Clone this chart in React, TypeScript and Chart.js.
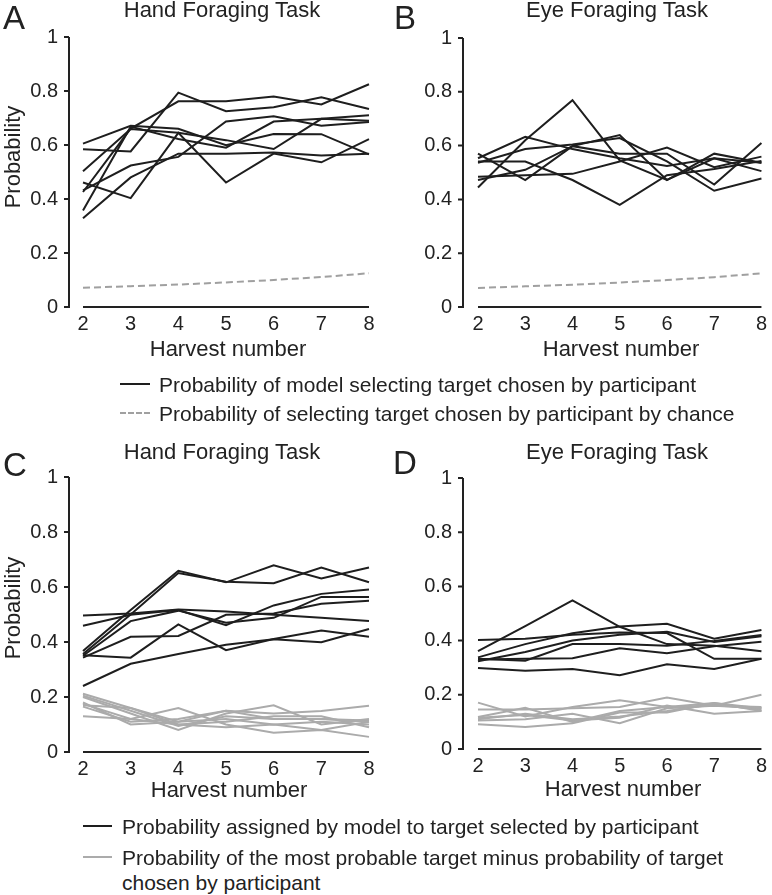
import React, { useEffect, useRef } from 'react';
import { Chart, registerables } from 'chart.js';

Chart.register(...registerables);

const FONT = "'Liberation Sans', Arial, Helvetica, sans-serif";

// ---------- data ----------
const harvest = ['2', '3', '4', '5', '6', '7', '8'];
const yTickLabels = ['0', '0.2', '0.4', '0.6', '0.8', '1'];

// chance probability (panels A and B)
const chance = [0.071, 0.077, 0.083, 0.091, 0.1, 0.111, 0.125];

// Panel A: hand foraging, model selecting participant's target
const handModel = [
  [0.605, 0.671, 0.66, 0.599, 0.641, 0.64, 0.565],
  [0.584, 0.576, 0.794, 0.725, 0.74, 0.777, 0.733],
  [0.503, 0.659, 0.645, 0.618, 0.585, 0.697, 0.69],
  [0.461, 0.403, 0.645, 0.461, 0.568, 0.536, 0.622],
  [0.432, 0.524, 0.556, 0.687, 0.706, 0.671, 0.685],
  [0.426, 0.661, 0.762, 0.762, 0.78, 0.75, 0.825],
  [0.357, 0.668, 0.622, 0.59, 0.687, 0.697, 0.71],
  [0.329, 0.48, 0.568, 0.568, 0.572, 0.561, 0.568],
];

// Panel B: eye foraging, model selecting participant's target
const eyeModel = [
  [0.444, 0.62, 0.769, 0.545, 0.472, 0.553, 0.536],
  [0.57, 0.472, 0.598, 0.57, 0.57, 0.455, 0.61],
  [0.553, 0.633, 0.587, 0.553, 0.524, 0.553, 0.505],
  [0.541, 0.541, 0.472, 0.38, 0.49, 0.513, 0.543],
  [0.536, 0.587, 0.604, 0.628, 0.541, 0.432, 0.478],
  [0.484, 0.49, 0.495, 0.541, 0.593, 0.52, 0.559],
  [0.472, 0.51, 0.598, 0.639, 0.472, 0.57, 0.536],
];

// Panel C: hand foraging
const handAssigned = [
  [0.367, 0.516, 0.659, 0.617, 0.679, 0.631, 0.671],
  [0.356, 0.5, 0.651, 0.619, 0.614, 0.671, 0.617],
  [0.496, 0.504, 0.518, 0.511, 0.499, 0.488, 0.476],
  [0.459, 0.499, 0.516, 0.461, 0.533, 0.575, 0.591],
  [0.35, 0.476, 0.514, 0.47, 0.488, 0.564, 0.564],
  [0.343, 0.419, 0.422, 0.499, 0.504, 0.539, 0.55],
  [0.352, 0.343, 0.464, 0.37, 0.411, 0.442, 0.419],
  [0.24, 0.321, 0.356, 0.39, 0.41, 0.399, 0.447],
];
const handMinus = [
  [0.212, 0.16, 0.11, 0.15, 0.14, 0.149, 0.168],
  [0.205, 0.15, 0.095, 0.13, 0.12, 0.12, 0.11],
  [0.2, 0.14, 0.08, 0.14, 0.17, 0.1, 0.12],
  [0.18, 0.1, 0.11, 0.12, 0.1, 0.11, 0.1],
  [0.175, 0.12, 0.16, 0.1, 0.07, 0.08, 0.055],
  [0.165, 0.11, 0.12, 0.15, 0.12, 0.12, 0.115],
  [0.13, 0.12, 0.1, 0.11, 0.13, 0.13, 0.09],
  [0.17, 0.16, 0.1, 0.09, 0.1, 0.08, 0.11],
];

// Panel D: eye foraging
const eyeAssigned = [
  [0.402, 0.407, 0.422, 0.43, 0.428, 0.333, 0.333],
  [0.361, 0.453, 0.548, 0.451, 0.387, 0.381, 0.361],
  [0.338, 0.387, 0.427, 0.452, 0.462, 0.407, 0.439],
  [0.333, 0.326, 0.387, 0.387, 0.381, 0.399, 0.421],
  [0.324, 0.358, 0.4, 0.422, 0.433, 0.395, 0.416],
  [0.33, 0.333, 0.335, 0.372, 0.353, 0.379, 0.396],
  [0.299, 0.289, 0.295, 0.272, 0.313, 0.295, 0.333],
];
const eyeMinus = [
  [0.171, 0.12, 0.155, 0.18, 0.155, 0.16, 0.2],
  [0.146, 0.146, 0.15, 0.155, 0.19, 0.16, 0.15],
  [0.118, 0.152, 0.1, 0.14, 0.155, 0.17, 0.14],
  [0.11, 0.13, 0.11, 0.12, 0.14, 0.165, 0.145],
  [0.105, 0.11, 0.13, 0.095, 0.15, 0.16, 0.155],
  [0.091, 0.081, 0.095, 0.135, 0.135, 0.17, 0.15],
  [0.115, 0.125, 0.105, 0.115, 0.16, 0.13, 0.14],
];

// ---------- styles ----------
const BLACK = '#1e1e1e';
const GRAY = '#ababab';
const DASH = '#a0a0a0';
const TEXT = '#222';

function lines(rows: number[][], color: string) {
  return rows.map((r) => ({
    data: r,
    borderColor: color,
    borderWidth: 2,
    pointRadius: 0,
    tension: 0,
    fill: false,
  }));
}
function dashed(r: number[]) {
  return {
    data: r,
    borderColor: DASH,
    borderWidth: 2,
    borderDash: [7, 4],
    pointRadius: 0,
    tension: 0,
    fill: false,
  };
}

const axesPlugin = (offset: number) => ({
  id: 'offsetAxes',
  afterDraw(chart: any) {
    const { ctx, chartArea, scales } = chart;
    const y = scales.y;
    const ax = chartArea.left - offset;
    const y0 = y.getPixelForValue(0);
    const y1 = y.getPixelForValue(1);
    ctx.save();
    ctx.strokeStyle = '#222';
    ctx.lineWidth = 2;
    ctx.beginPath();
    ctx.moveTo(ax, y1);
    ctx.lineTo(ax, y0 + 1);
    y.ticks.forEach((t: any) => {
      const py = y.getPixelForValue(t.value);
      ctx.moveTo(ax, py);
      ctx.lineTo(ax - 5, py);
    });
    ctx.moveTo(chartArea.left, y0);
    ctx.lineTo(chartArea.right, y0);
    ctx.stroke();
    ctx.restore();
  },
});

type PanelProps = {
  left: number;
  top: number;
  width: number;
  height: number;
  padTop: number;
  padRight: number;
  yWidth: number;
  yPad: number;
  xHeight: number;
  offset: number;
  datasets: any[];
};

function Panel(p: PanelProps) {
  const ref = useRef<HTMLCanvasElement>(null);
  useEffect(() => {
    if (!ref.current) return;
    const chart = new Chart(ref.current, {
      type: 'line',
      data: { labels: harvest, datasets: p.datasets },
      options: {
        animation: false,
        responsive: false,
        maintainAspectRatio: false,
        layout: { padding: { top: p.padTop, right: p.padRight, left: 0, bottom: 0 } },
        plugins: { legend: { display: false }, tooltip: { enabled: false } },
        scales: {
          x: {
            type: 'category',
            offset: false,
            grid: { display: false, drawTicks: false },
            border: { display: false },
            ticks: {
              color: TEXT,
              font: { size: 20, family: FONT },
              padding: 5,
              maxRotation: 0,
              autoSkip: false,
            },
            afterFit: (s: any) => {
              s.height = p.xHeight;
            },
          },
          y: {
            min: 0,
            max: 1,
            grid: { display: false, drawTicks: false },
            border: { display: false },
            ticks: {
              stepSize: 0.2,
              color: TEXT,
              font: { size: 20, family: FONT },
              padding: p.yPad,
              callback: (v: any) => yTickLabels[Math.round(Number(v) * 5)],
            },
            afterFit: (s: any) => {
              s.width = p.yWidth;
            },
          },
        },
      } as any,
      plugins: [axesPlugin(p.offset)],
    });
    return () => chart.destroy();
  }, []);
  return (
    <canvas
      ref={ref}
      width={p.width}
      height={p.height}
      style={{ position: 'absolute', left: p.left, top: p.top, width: p.width, height: p.height }}
    />
  );
}

function Txt(props: { x: number; y: number; size: number; children: any; align?: 'center' | 'left'; rotate?: boolean }) {
  const { x, y, size, align = 'center', rotate } = props;
  const tx = align === 'center' ? '-50%' : '0';
  return (
    <div
      style={{
        position: 'absolute',
        left: x,
        top: y,
        fontFamily: FONT,
        fontSize: size,
        lineHeight: 1,
        color: TEXT,
        whiteSpace: 'nowrap',
        transform: `translate(${tx}, -50%)${rotate ? ' rotate(-90deg)' : ''}`,
        transformOrigin: rotate ? 'center center' : undefined,
      }}
    >
      {props.children}
    </div>
  );
}

function Swatch(props: { x1: number; x2: number; y: number; color: string; dash?: boolean }) {
  return (
    <div
      style={{
        position: 'absolute',
        left: props.x1,
        top: props.y - 1,
        width: props.x2 - props.x1,
        height: 0,
        borderTop: `2px ${props.dash ? 'dashed' : 'solid'} ${props.color}`,
      }}
    />
  );
}

export default function App() {
  const dsA = [...lines(handModel, BLACK), dashed(chance)];
  const dsB = [...lines(eyeModel, BLACK), dashed(chance)];
  const dsC = [...lines(handMinus, GRAY), ...lines(handAssigned, BLACK)];
  const dsD = [...lines(eyeMinus, GRAY), ...lines(eyeAssigned, BLACK)];
  return (
    <div style={{ position: 'absolute', left: 0, top: 0, width: 772, height: 895, background: '#fff', overflow: 'hidden' }}>
      <Panel left={0} top={0} width={390} height={345} padTop={17} padRight={21} yWidth={83} yPad={25} xHeight={38} offset={14} datasets={dsA} />
      <Panel left={390} top={0} width={382} height={345} padTop={17} padRight={9} yWidth={88} yPad={26} xHeight={38} offset={15} datasets={dsB} />
      <Panel left={0} top={440} width={390} height={350} padTop={21} padRight={21} yWidth={83} yPad={25} xHeight={38} offset={14} datasets={dsC} />
      <Panel left={390} top={440} width={382} height={347} padTop={19} padRight={9} yWidth={88} yPad={26} xHeight={38} offset={15} datasets={dsD} />

      {/* panel letters */}
      <Txt x={3} y={17} size={33} align="left">A</Txt>
      <Txt x={394} y={17} size={33} align="left">B</Txt>
      <Txt x={3} y={464} size={33} align="left">C</Txt>
      <Txt x={393} y={462} size={33} align="left">D</Txt>

      {/* titles */}
      <Txt x={222} y={10} size={22}>Hand Foraging Task</Txt>
      <Txt x={617} y={10} size={22}>Eye Foraging Task</Txt>
      <Txt x={222} y={452} size={22}>Hand Foraging Task</Txt>
      <Txt x={617} y={452} size={22}>Eye Foraging Task</Txt>

      {/* y titles */}
      <Txt x={13} y={157} size={22} rotate>Probability</Txt>
      <Txt x={13} y={608} size={22} rotate>Probability</Txt>

      {/* x titles */}
      <Txt x={228} y={349} size={22}>Harvest number</Txt>
      <Txt x={621} y={349} size={22}>Harvest number</Txt>
      <Txt x={229} y={790} size={22}>Harvest number</Txt>
      <Txt x={623} y={789} size={22}>Harvest number</Txt>

      {/* top legend */}
      <Swatch x1={120} x2={150} y={384} color={BLACK} />
      <Txt x={159} y={384} size={21} align="left">Probability of model selecting target chosen by participant</Txt>
      <Swatch x1={120} x2={150} y={413} color={DASH} dash />
      <Txt x={159} y={413} size={21} align="left">Probability of selecting target chosen by participant by chance</Txt>

      {/* bottom legend */}
      <Swatch x1={83} x2={112} y={826} color={BLACK} />
      <Txt x={122} y={826} size={21} align="left">Probability assigned by model to target selected by participant</Txt>
      <Swatch x1={83} x2={112} y={857} color={GRAY} />
      <Txt x={122} y={857} size={21} align="left">Probability of the most probable target minus probability of target</Txt>
      <Txt x={122} y={882} size={21} align="left">chosen by participant</Txt>
    </div>
  );
}
